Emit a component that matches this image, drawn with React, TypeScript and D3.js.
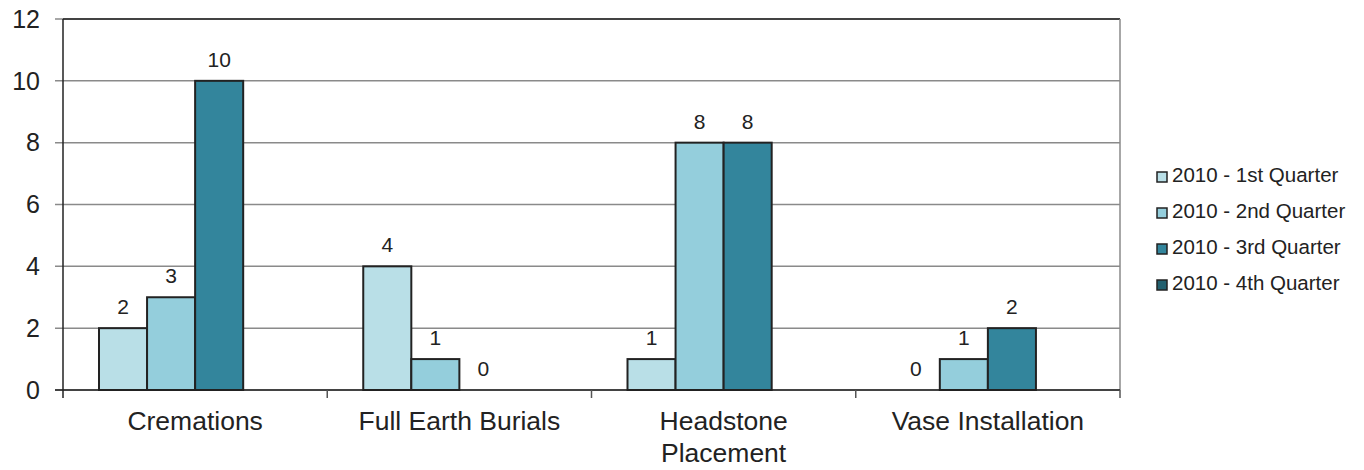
import React from "react";
import * as d3 from "d3";

const categories = ["Cremations", "Full Earth Burials", "Headstone Placement", "Vase Installation"];
const seriesNames = ["2010 - 1st Quarter", "2010 - 2nd Quarter", "2010 - 3rd Quarter", "2010 - 4th Quarter"];
const q1 = [2, 4, 1, 0];
const q2 = [3, 1, 8, 1];
const q3 = [10, 0, 8, 2];
const q4: (number | null)[] = [null, null, null, null];
const yTicks = [0, 2, 4, 6, 8, 10, 12];
const colors = ["#B9DFE7", "#94CEDC", "#33859C", "#22606F"];

const W = 1364, H = 470;
const M = { left: 63, right: 1120, top: 19, bottom: 390 };
const FONT = "'Liberation Sans', Arial, sans-serif";

function wrap(text: string, maxW: number, size: number): string[] {
  const c = document.createElement("canvas").getContext("2d")!;
  c.font = `${size}px ${FONT}`;
  const words = text.split(" ");
  const lines: string[] = [];
  let cur = "";
  for (const w of words) {
    const t = cur ? cur + " " + w : w;
    if (cur && c.measureText(t).width > maxW) {
      lines.push(cur);
      cur = w;
    } else cur = t;
  }
  if (cur) lines.push(cur);
  return lines;
}

export default function App() {
  const series = [q1, q2, q3, q4];
  const x0 = d3.scaleBand<string>().domain(categories).range([M.left, M.right]).padding(0);
  const bw = x0.bandwidth();
  const gap = bw * (72 / 264.25);
  const x1 = d3.scaleBand<string>().domain(seriesNames).range([gap / 2, bw - gap / 2]).padding(0);
  const y = d3.scaleLinear().domain([0, 12]).range([M.bottom, M.top]);
  const catSize = 26.5;

  return (
    <svg width={W} height={H} style={{ position: "absolute", left: 0, top: 0, background: "#fff" }} fontFamily={FONT}>
      {yTicks.map((t) => (
        <line key={"g" + t} x1={M.left - 8} x2={M.right} y1={y(t)} y2={y(t)} stroke="#8a8a8a" strokeWidth={1.5} />
      ))}
      <line x1={M.left} x2={M.right} y1={M.top} y2={M.top} stroke="#222" strokeWidth={1.5} />
      <line x1={M.right} x2={M.right} y1={M.top} y2={M.bottom} stroke="#8a8a8a" strokeWidth={1.5} />
      {yTicks.map((t) => (
        <text key={"t" + t} x={40} y={y(t)} dy="0.35em" textAnchor="end" fontSize={25} fill="#222">
          {t}
        </text>
      ))}
      {categories.map((c, ci) =>
        series.map((s, si) => {
          const v = s[ci];
          if (v == null) return null;
          const bx = (x0(c) as number) + (x1(seriesNames[si]) as number);
          return (
            <g key={c + si}>
              {v > 0 && (
                <rect x={bx} y={y(v)} width={x1.bandwidth()} height={y(0) - y(v)} fill={colors[si]} stroke="#222" strokeWidth={2} />
              )}
              <text x={bx + x1.bandwidth() / 2} y={y(v) - 14} textAnchor="middle" fontSize={21} fill="#222">
                {v}
              </text>
            </g>
          );
        })
      )}
      <line x1={M.left - 8} x2={M.right} y1={M.bottom} y2={M.bottom} stroke="#222" strokeWidth={1.5} />
      <line x1={M.left} x2={M.left} y1={M.top} y2={M.bottom + 8} stroke="#222" strokeWidth={1.5} />
      {categories.map((c) => (
        <line key={"ct" + c} x1={(x0(c) as number) + bw} x2={(x0(c) as number) + bw} y1={M.bottom} y2={M.bottom + 8} stroke="#555" strokeWidth={1.5} />
      ))}
      {categories.map((c) => {
        const lines = wrap(c, bw - 20, catSize);
        return (
          <text key={"cl" + c} textAnchor="middle" fontSize={catSize} fill="#222">
            {lines.map((l, i) => (
              <tspan key={i} x={(x0(c) as number) + bw / 2} y={430 + i * 32}>
                {l}
              </tspan>
            ))}
          </text>
        );
      })}
      {seriesNames.map((s, i) => (
        <g key={"l" + s} transform={`translate(1157, ${182 + i * 36})`}>
          <rect x={0} y={-10} width={10} height={10} fill={colors[i]} stroke="#222" strokeWidth={1.5} />
          <text x={15} y={0} fontSize={20.5} fill="#222">
            {s}
          </text>
        </g>
      ))}
    </svg>
  );
}
